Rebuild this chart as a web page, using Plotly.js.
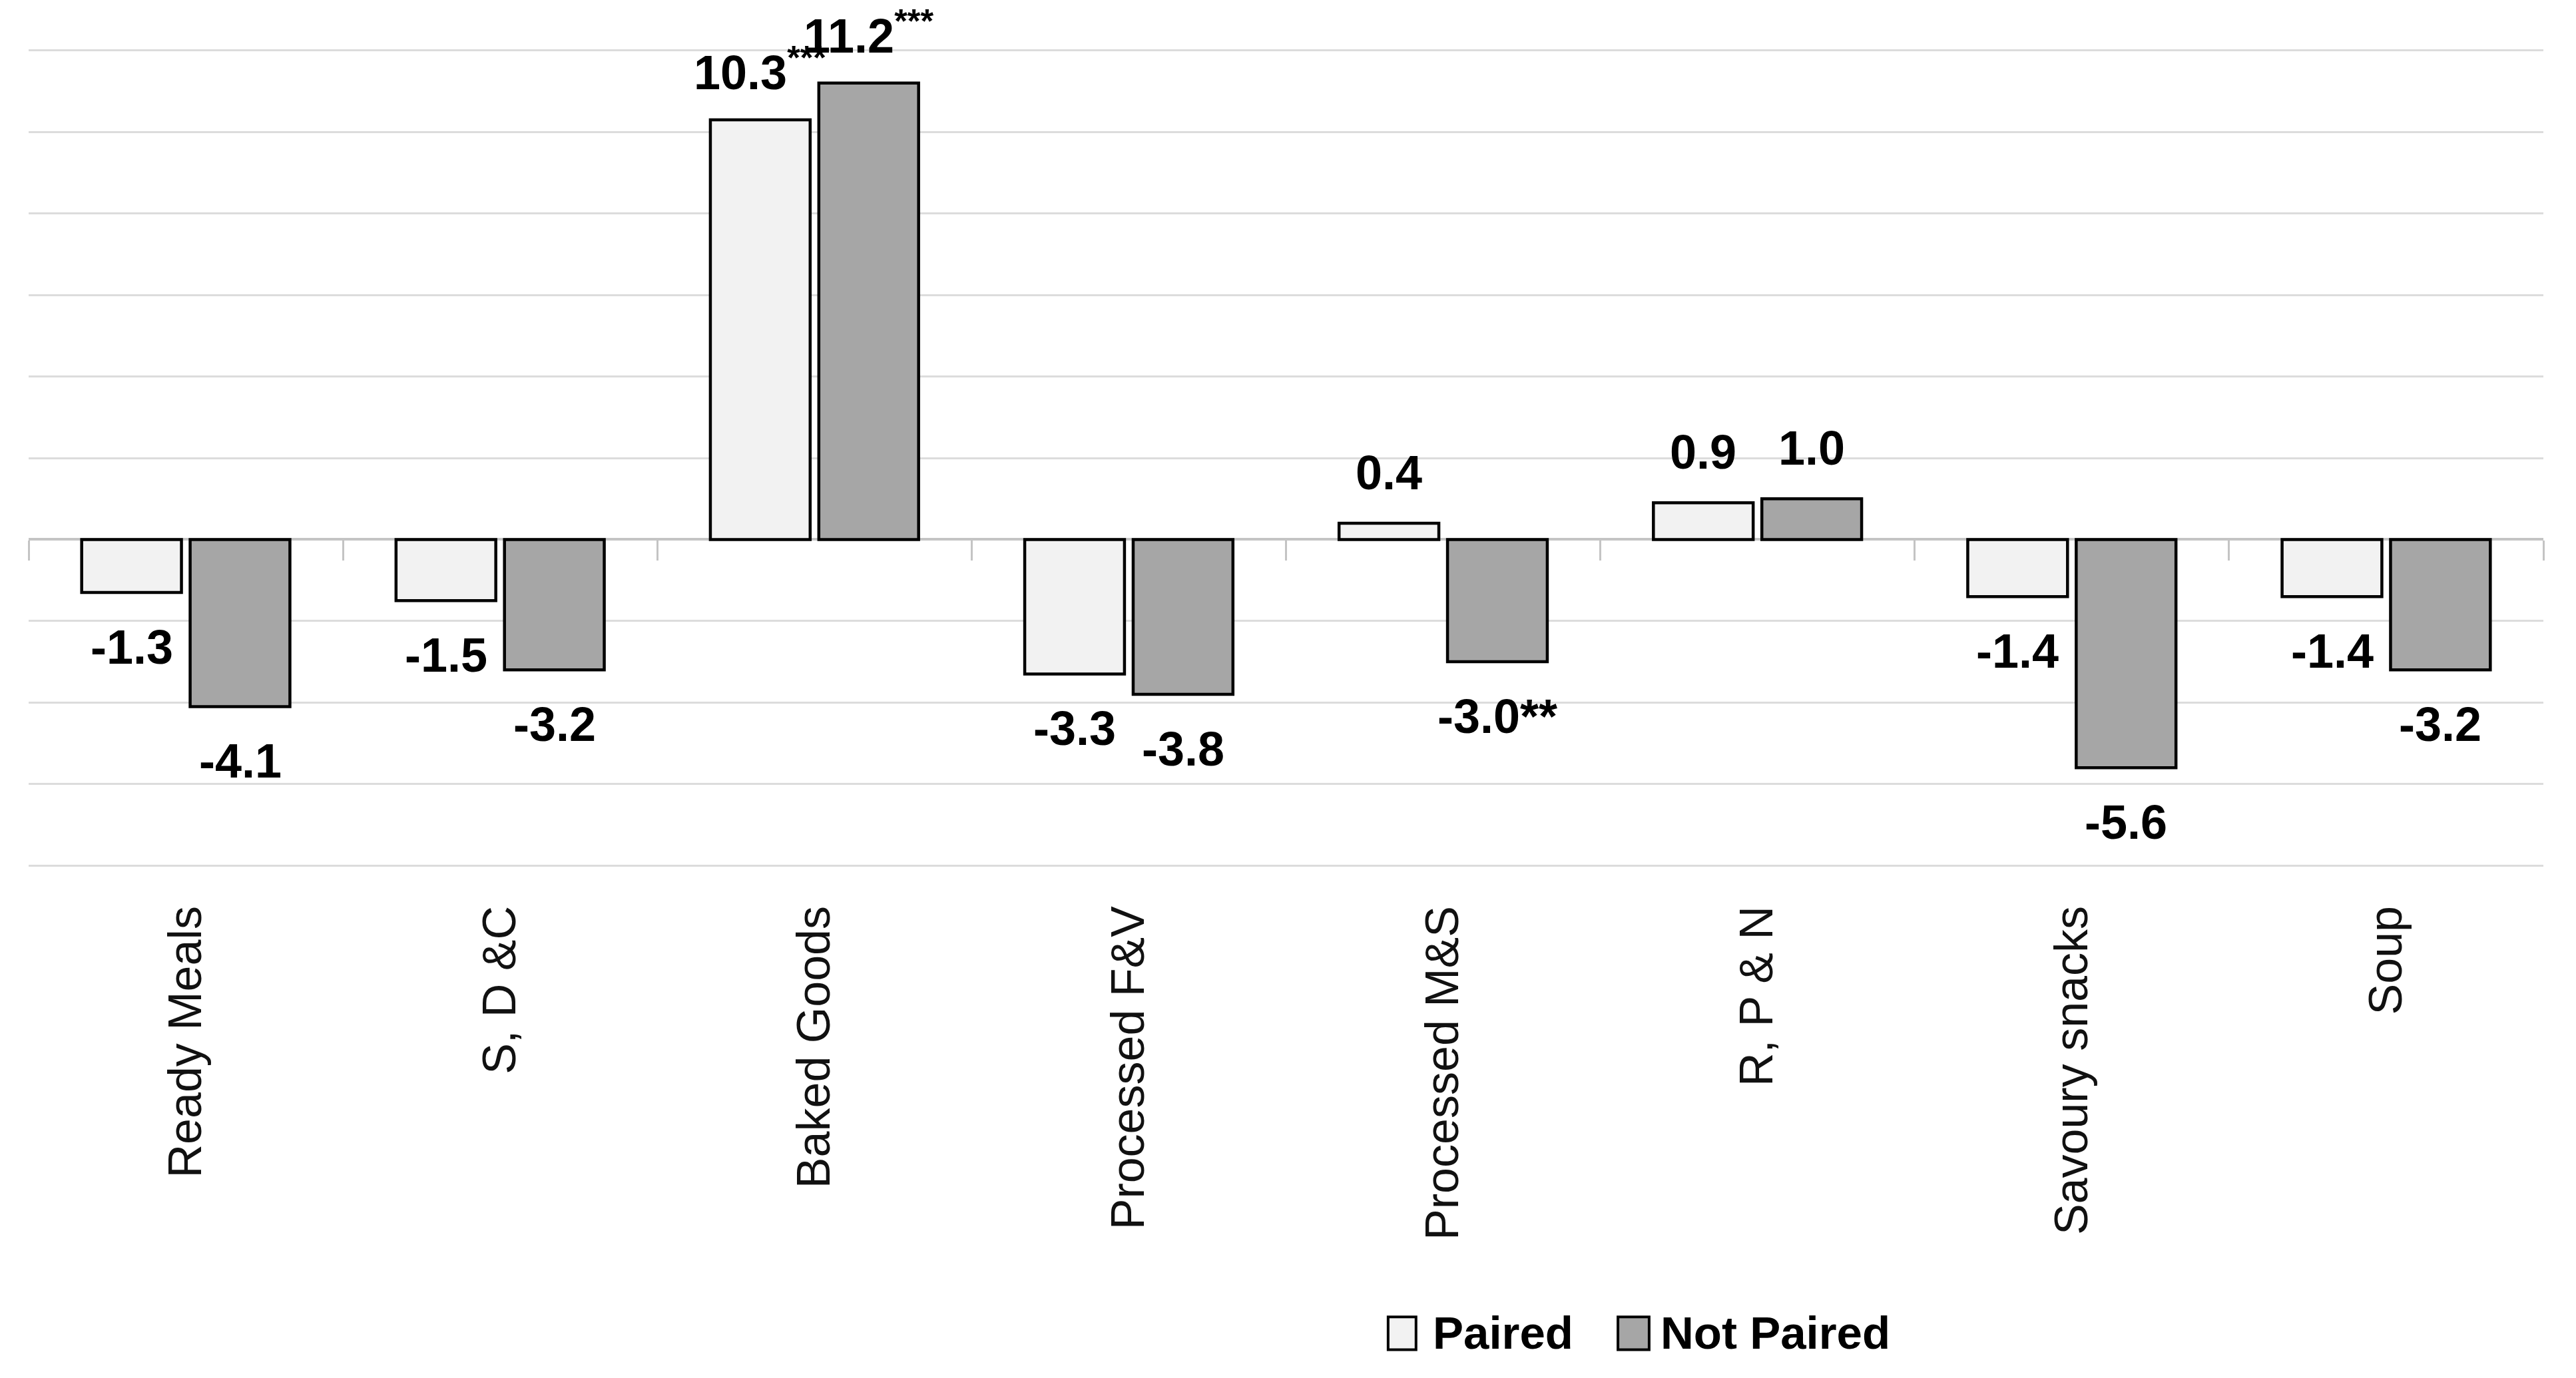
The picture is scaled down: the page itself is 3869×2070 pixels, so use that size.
<!DOCTYPE html>
<html>
<head>
<meta charset="utf-8">
<script src="https://cdn.plot.ly/plotly-3.0.1.min.js"></script>
<style>html,body{margin:0;padding:0;background:#fff;}#chart{width:3869px;height:2070px;}</style>
</head>
<body>
<div id="chart"></div>
<script>
// ---- data ----
const categories = ['Ready Meals', 'S, D &C', 'Baked Goods', 'Processed F&V', 'Processed M&S', 'R, P & N', 'Savoury snacks', 'Soup'];
const pairedValues = [-1.3, -1.5, 10.3, -3.3, 0.4, 0.9, -1.4, -1.4];
const notPairedValues = [-4.1, -3.2, 11.2, -3.8, -3.0, 1.0, -5.6, -3.2];
const pairedSig = ['', '', '<sup>***</sup>', '', '', '', '', ''];
const notPairedSig = ['', '', '<sup>***</sup>', '', '**', '', '', ''];
const seriesNames = ['Paired', 'Not Paired'];
const yTicks = [-8, -6, -4, -2, 0, 2, 4, 6, 8, 10, 12];

// ---- styling ----
const FONT = 'Liberation Sans, Arial, sans-serif';
const colors = ['#f2f2f2', '#a6a6a6'];
const bargap = 0.31;
const barLine = {color: '#000000', width: 4.5};
const pad = 0.03; // keeps the outer gridlines inside the plot so they are drawn

const yMin = yTicks[0], yMax = yTicks[yTicks.length - 1];

const traces = [
  {type: 'bar', name: seriesNames[0], x: categories, y: pairedValues,
   marker: {color: colors[0], line: barLine}, showlegend: false, hoverinfo: 'x+y'},
  {type: 'bar', name: seriesNames[1], x: categories, y: notPairedValues,
   marker: {color: colors[1], line: barLine}, showlegend: false, hoverinfo: 'x+y'},
  // helper trace so the zero axis (with boundary ticks) knows the categories
  {type: 'scatter', mode: 'markers', x: categories, y: categories.map(() => null),
   xaxis: 'x2', yaxis: 'y', showlegend: false, hoverinfo: 'skip'}
];

// data labels
const annotations = [];
const off = (1 - bargap) / 4;
[[pairedValues, pairedSig, -off], [notPairedValues, notPairedSig, off]].forEach(([vals, sig, dx]) => {
  vals.forEach((v, i) => {
    annotations.push({
      x: i + dx, y: v, xref: 'x', yref: 'y',
      text: v.toFixed(1) + sig[i],
      showarrow: false, xanchor: 'center', yanchor: 'middle',
      yshift: v >= 0 ? 76 : -82,
      font: {family: FONT, size: 72, color: '#000', weight: 'bold'}
    });
  });
});

// custom legend (large symbols as in the reference)
const shapes = [];
const legendItems = [
  {name: seriesNames[0], color: colors[0], sx0: 0.5406, sx1: 0.5517, tx: 0.5578},
  {name: seriesNames[1], color: colors[1], sx0: 0.6320, sx1: 0.6444, tx: 0.6484}
];
legendItems.forEach(it => {
  shapes.push({type: 'rect', xref: 'paper', yref: 'paper', x0: it.sx0, x1: it.sx1, y0: -0.5907, y1: -0.5507,
    fillcolor: it.color, line: {color: '#000', width: 4}});
  annotations.push({xref: 'paper', yref: 'paper', x: it.tx, y: -0.5707, xanchor: 'left', yanchor: 'middle',
    text: '<b>' + it.name + '</b>', showarrow: false, font: {family: FONT, size: 69, color: '#000'}});
});

const layout = {
  width: 3869, height: 2070,
  paper_bgcolor: '#ffffff', plot_bgcolor: '#ffffff',
  margin: {l: 43, r: 49, t: 74, b: 768},
  barmode: 'group', bargap: bargap, bargroupgap: 0.08,
  showlegend: false,
  font: {family: FONT, color: '#000'},
  xaxis: {
    type: 'category', categoryorder: 'array', categoryarray: categories,
    range: [-0.5, categories.length - 0.5],
    showgrid: false, showline: false, zeroline: false,
    ticks: '', tickangle: -90, ticklabelstandoff: 44,
    tickfont: {family: FONT, size: 70, color: '#111'}
  },
  xaxis2: {
    type: 'category', categoryorder: 'array', categoryarray: categories,
    overlaying: 'x', anchor: 'free', position: (0 - (yMin - pad)) / ((yMax + pad) - (yMin - pad)),
    range: [-0.5, categories.length - 0.5],
    showgrid: false, zeroline: false, showline: true, linecolor: '#c4c4c4', linewidth: 4,
    ticks: 'outside', tickson: 'boundaries', ticklen: 30, tickwidth: 3, tickcolor: '#c4c4c4',
    showticklabels: false, layer: 'below traces', side: 'bottom'
  },
  yaxis: {
    range: [yMin - pad, yMax + pad],
    tickvals: yTicks, showticklabels: false, ticks: '',
    showgrid: true, gridcolor: '#dcdcdc', gridwidth: 3,
    zeroline: false, showline: false
  },
  annotations: annotations,
  shapes: shapes
};

Plotly.newPlot('chart', traces, layout, {staticPlot: true, displayModeBar: false});
</script>
</body>
</html>
